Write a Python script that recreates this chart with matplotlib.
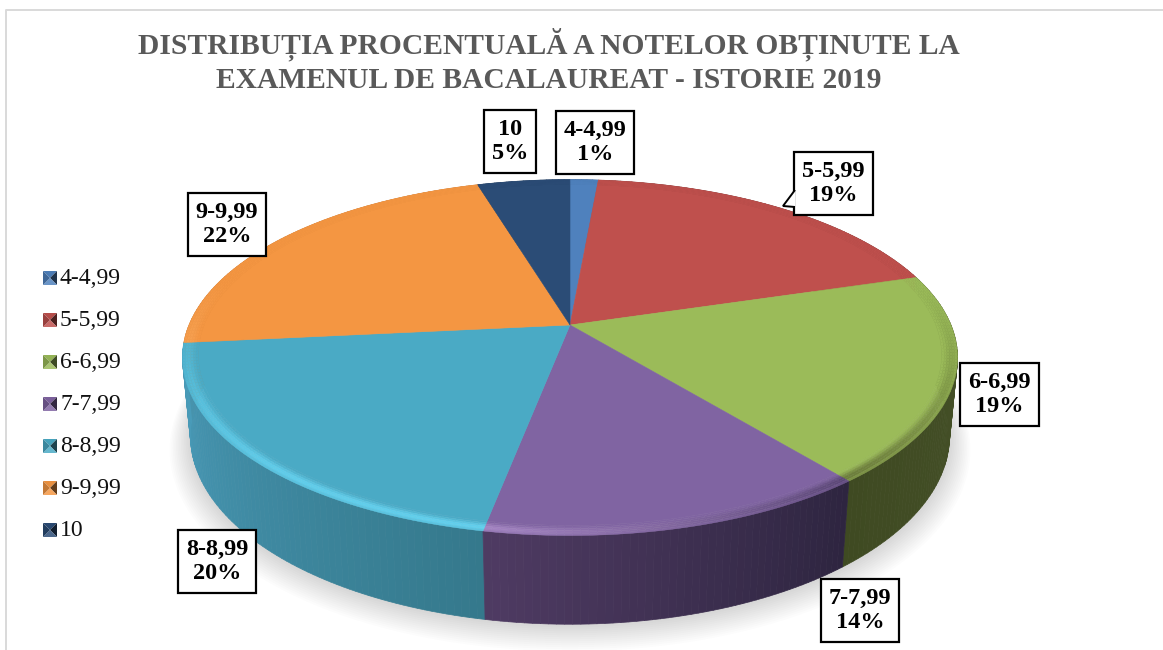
import numpy as np
import matplotlib
matplotlib.use('Agg')
import matplotlib.pyplot as plt
from matplotlib.collections import PolyCollection
from matplotlib.colors import to_rgb
from matplotlib.patches import Polygon, Rectangle

plt.rcParams['font.family'] = ['Liberation Serif', 'DejaVu Serif']

# data, the labels show these rounded
categories = ['4-4,99', '5-5,99', '6-6,99', '7-7,99', '8-8,99', '9-9,99', '10']
percents = [1.4, 18.9, 18.9, 13.8, 20.4, 22.0, 4.6]

title_lines = ['DISTRIBUȚIA PROCENTUALĂ A NOTELOR OBȚINUTE LA',
               'EXAMENUL DE BACALAUREAT - ISTORIE 2019']

# styles, same order as categories
face_colors = ['#4f81bd', '#bf504d', '#9bbb59', '#8064a2', '#4aaac5', '#f49642', '#2b4c76']
wall_start = ['#3b618e', '#7d3432', '#47532a', '#2e2540', '#35798c', '#c97a35', '#1f3858']
wall_end = ['#3b618e', '#7d3432', '#3f4a22', '#4f3b63', '#4a9cba', '#c97a35', '#1f3858']
rim_start = ['#4f81bd', '#bf504d', '#7f9a48', '#5b4677', '#62d0ee', '#fbb26a', '#2b4c76']
rim_end = ['#4f81bd', '#bf504d', '#6b7c3a', '#a585c4', '#5cc8e6', '#fbb26a', '#2b4c76']

# label boxes: left, top, width, height in pixels
label_boxes = [(556, 111, 78, 63), (794, 152, 79, 63), (960, 363, 79, 63),
               (821, 579, 78, 63), (178, 530, 78, 63), (188, 193, 78, 63),
               (484, 110, 52, 63)]
legend_y = [278, 320, 362, 404, 446, 488, 530]

# projection of the pie disc, picked to follow the picture
CX, CY = 570, 325
A, B, K = 381, 172, 0.183
DROP = 77
BOTTOM_R = 0.98
WALL_ORDER = [6, 0, 5, 1, 2, 4, 3]


def project(theta, r=1.0, drop=0.0):
    # theta is clockwise from 12 o'clock, in radians
    u = r * np.sin(theta)
    v = r * np.cos(theta)
    w = 1 + K * v
    return CX + A * u / w, CY - B * v / w + drop / w


def mix(c1, c2, t):
    c1, c2 = np.array(to_rgb(c1)), np.array(to_rgb(c2))
    return tuple(c1 + (c2 - c1) * t)


fig = plt.figure(figsize=(11.63, 6.5), dpi=100)
ax = fig.add_axes([0, 0, 1, 1])
ax.set_xlim(0, 1163)
ax.set_ylim(650, 0)
ax.axis('off')

# frame of the chart
ax.plot([5.5, 5.5, 1163], [650, 9.5, 9.5], color='#d9d9d9', lw=1.4, zorder=1)

# soft shadow under the disc
circle = np.linspace(0, 2 * np.pi, 361)
for i in range(14):
    x, y = project(circle, BOTTOM_R + 0.004 * i, DROP + 1 + i * 0.7)
    ax.fill(x, y, color='black', alpha=0.012, lw=0, zorder=2)

edges = np.cumsum([0] + percents) / sum(percents) * 2 * np.pi

# walls, back ones first
for i in WALL_ORDER:
    th = np.linspace(edges[i], edges[i + 1], max(int(np.degrees(edges[i + 1] - edges[i])), 2) + 1)
    polys, cols = [], []
    for j in range(len(th) - 1):
        x0, y0 = project(th[j])
        x1, y1 = project(th[j + 1])
        x2, y2 = project(th[j + 1], BOTTOM_R, DROP)
        x3, y3 = project(th[j], BOTTOM_R, DROP)
        polys.append([(x0, y0), (x1, y1), (x2, y2), (x3, y3)])
        cols.append(mix(wall_start[i], wall_end[i], j / (len(th) - 1)))
    ax.add_collection(PolyCollection(polys, facecolors=cols, edgecolors=cols, lw=0.5, zorder=3))

# top face
for i in range(len(percents)):
    th = np.linspace(edges[i], edges[i + 1], max(int(np.degrees(edges[i + 1] - edges[i])), 2) + 1)
    x, y = project(th, 0.96)
    ax.fill(np.r_[CX, x], np.r_[CY, y], color=face_colors[i], lw=0.4, zorder=4)

    radii = np.linspace(0.96, 1.0, 7)
    polys, cols = [], []
    for j in range(len(th) - 1):
        front = np.clip(0.25 - np.cos(th[j]), 0, 1)
        rim = mix(rim_start[i], rim_end[i], j / (len(th) - 1))
        for n in range(len(radii) - 1):
            x0, y0 = project(th[j], radii[n])
            x1, y1 = project(th[j + 1], radii[n])
            x2, y2 = project(th[j + 1], radii[n + 1])
            x3, y3 = project(th[j], radii[n + 1])
            polys.append([(x0, y0), (x1, y1), (x2, y2), (x3, y3)])
            t = (n + 0.5) / (len(radii) - 1)
            cols.append(mix(face_colors[i], rim, min(front, 1) * np.sin(np.pi * min(t * 0.75, 1)) ** 2))
    ax.add_collection(PolyCollection(polys, facecolors=cols, edgecolors=cols, lw=0.3, zorder=4))

# title
for text, y in zip(title_lines, [44, 80]):
    ax.text(549, y, text, ha='center', va='center', fontsize=21.25, fontweight='bold',
            color='#595959', zorder=6)

# legend
for name, color, y in zip(categories, face_colors, legend_y):
    x0, x1, y0, y1 = 43, 57, y - 7, y + 7
    xm, ym = (x0 + x1) / 2, (y0 + y1) / 2
    ax.add_patch(Polygon([(x0, y0), (x1, y0), (xm, ym)], color=mix(color, 'black', 0.05), lw=0, zorder=6))
    ax.add_patch(Polygon([(x1, y0), (x1, y1), (xm, ym)], color=mix(color, 'black', 0.6), lw=0, zorder=6))
    ax.add_patch(Polygon([(x0, y1), (x1, y1), (xm, ym)], color=mix(color, 'white', 0.15), lw=0, zorder=6))
    ax.add_patch(Polygon([(x0, y0), (x0, y1), (xm, ym)], color=mix(color, 'black', 0.2), lw=0, zorder=6))
    ax.text(60, y, name, ha='left', va='center', fontsize=17, color='#111111', zorder=6)

# data labels
for name, pct, (left, top, w, h) in zip(categories, percents, label_boxes):
    ax.add_patch(Rectangle((left, top), w, h, fc='white', ec='black', lw=1.6, zorder=7))
    ax.text(left + w / 2, top + h / 2, f'{name}\n{round(pct)}%', ha='center', va='center',
            fontsize=17.5, fontweight='bold', color='black', linespacing=1.22, zorder=8)

# pointer of the 5-5,99 callout
ax.add_patch(Polygon([(795, 190), (783, 206), (795, 207)], closed=False, fc='white', ec='black',
                     lw=1.4, zorder=8))

fig.savefig('out.png', dpi=100, facecolor='white')
